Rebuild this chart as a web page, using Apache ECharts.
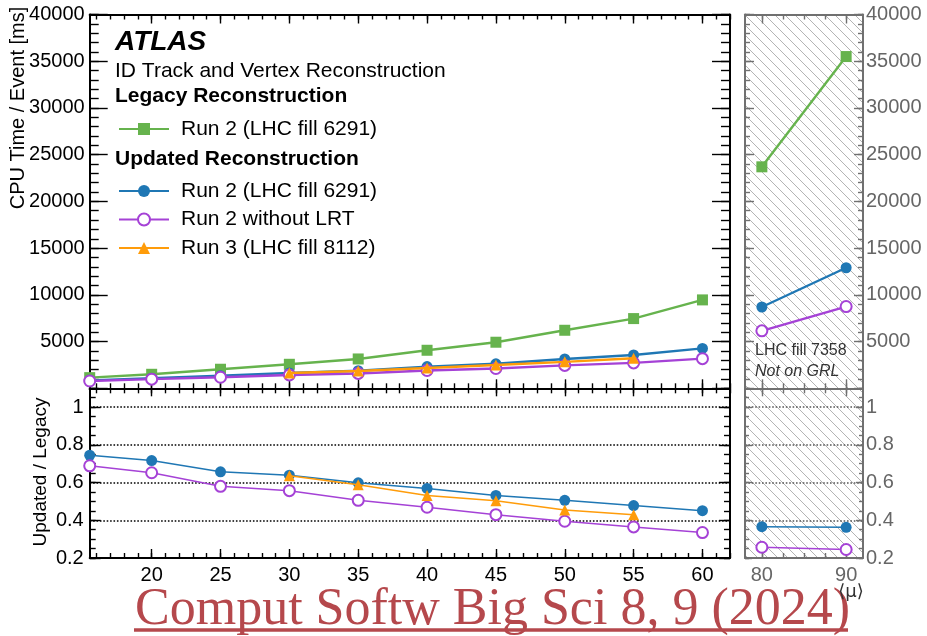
<!DOCTYPE html>
<html>
<head>
<meta charset="utf-8">
<script src="https://cdn.jsdelivr.net/npm/echarts@6/dist/echarts.min.js"></script>
<style>
  html, body { margin: 0; padding: 0; background: #ffffff; }
  #chart { width: 927px; height: 636px; }
</style>
</head>
<body>
<div id="chart"></div>
<script>
// <mu> values of the measured runs
const mu = [15.5, 20, 25, 30, 35, 40, 45, 50, 55, 60];
const muRun3 = [30, 35, 40, 45, 50, 55];
const muHigh = [80, 90];

// CPU time per event [ms]
const legacyRun2 = [1140, 1500, 2040, 2570, 3140, 4070, 4930, 6210, 7460, 9460];
const updatedRun2 = [850, 1080, 1340, 1640, 1880, 2320, 2620, 3140, 3570, 4270];
const updatedNoLRT = [780, 980, 1180, 1430, 1590, 1910, 2120, 2450, 2720, 3170];
const updatedRun3 = [1640, 1850, 2170, 2490, 2830, 3210];
const legacyRun2High = [23700, 35500];
const updatedRun2High = [8700, 12900];
const updatedNoLRTHigh = [6150, 8750];

// Updated / Legacy ratios
const ratioRun2 = [0.745, 0.717, 0.657, 0.639, 0.599, 0.569, 0.532, 0.506, 0.478, 0.451];
const ratioNoLRT = [0.689, 0.652, 0.580, 0.557, 0.506, 0.469, 0.430, 0.395, 0.365, 0.335];
const ratioRun3 = [0.636, 0.588, 0.532, 0.504, 0.455, 0.430];
const ratioRun2High = [0.366, 0.363];
const ratioNoLRTHigh = [0.257, 0.245];

// tick labels
const cpuTickLabels = [5000, 10000, 15000, 20000, 25000, 30000, 35000, 40000];
const ratioTickLabels = [0.2, 0.4, 0.6, 0.8, 1];
const muTickLabels = [20, 25, 30, 35, 40, 45, 50, 55, 60];
const muHighTickLabels = [80, 90];

const legendLabel = {
  'Legacy Run 2': 'Run 2 (LHC fill 6291)',
  'Updated Run 2': 'Run 2 (LHC fill 6291)',
  'Updated no LRT': 'Run 2 without LRT',
  'Updated Run 3': 'Run 3 (LHC fill 8112)'
};

const FONT = "'Liberation Sans', Arial, Helvetica, sans-serif";
const BLACK = '#000000';
const GREY = '#707070';
const GREEN = '#66b34d';
const BLUE = '#1f77b4';
const PURPLE = '#a542d6';
const ORANGE = '#ff9c0a';

function steps(a, b, step) {
  const out = [];
  for (let v = a; v <= b + 1e-9; v += step) out.push(+v.toFixed(4));
  return out;
}
function pts(xs, ys) { return xs.map((x, i) => [x, ys[i]]); }

// diagonal hatching for the high-pile-up panels
const hatch = document.createElement('canvas');
hatch.width = 10; hatch.height = 10;
const hg = hatch.getContext('2d');
hg.strokeStyle = '#b4b4b4';
hg.lineWidth = 1;
hg.beginPath();
[-10, 0, 10].forEach(k => { hg.moveTo(k - 1, -1); hg.lineTo(k + 11, 11); });
hg.stroke();

const grids = [
  { left: 89.7, top: 14.5, width: 640.3, height: 373.8 },
  { left: 89.7, top: 388.3, width: 640.3, height: 169.7 },
  { left: 745, top: 14.5, width: 118, height: 373.8, show: true, borderWidth: 0,
    backgroundColor: { image: hatch, repeat: 'repeat' } },
  { left: 745, top: 388.3, width: 118, height: 169.7, show: true, borderWidth: 0,
    backgroundColor: { image: hatch, repeat: 'repeat' } }
].map(g => Object.assign({ containLabel: false, outerBoundsMode: 'none' }, g));

function tickAxis(grid, pos, min, max, ticks, len, color, showLine, labels, labelMargin) {
  const a = {
    type: 'value', gridIndex: grid, position: pos, min: min, max: max,
    axisLine: { show: showLine, onZero: false, lineStyle: { color: color, width: 2 } },
    axisTick: { show: true, inside: true, length: len, customValues: ticks,
                lineStyle: { color: color, width: 1.4 } },
    axisLabel: { show: false },
    splitLine: { show: false },
    minorTick: { show: false },
    minorSplitLine: { show: false }
  };
  if (labels) {
    a.axisLabel = { show: true, customValues: labels, margin: labelMargin, color: color === BLACK ? BLACK : '#666666',
                    fontSize: 20, fontFamily: FONT, formatter: v => String(v) };
  }
  return a;
}

const muMajor = steps(20, 60, 5);
const muMinor = steps(16, 62, 1);
const muHighMinor = steps(80, 90, 2.5);
const cpuMajor = steps(0, 40000, 5000);
const cpuMinor = steps(0, 40000, 1000);
const ratioMajor = steps(0.2, 1.0, 0.2);
const ratioMinor = steps(0.2, 1.1, 0.05);

const xAxis = [
  // top-left
  tickAxis(0, 'bottom', 15.5, 62, muMajor, 9, BLACK, true),
  tickAxis(0, 'bottom', 15.5, 62, muMinor, 5, BLACK, false),
  tickAxis(0, 'top', 15.5, 62, muMajor, 9, BLACK, true),
  tickAxis(0, 'top', 15.5, 62, muMinor, 5, BLACK, false),
  // ratio-left
  tickAxis(1, 'bottom', 15.5, 62, muMajor, 9, BLACK, true, muTickLabels, 7),
  tickAxis(1, 'bottom', 15.5, 62, muMinor, 5, BLACK, false),
  tickAxis(1, 'top', 15.5, 62, muMajor, 8, BLACK, true),
  tickAxis(1, 'top', 15.5, 62, muMinor, 5, BLACK, false),
  // top-right
  tickAxis(2, 'bottom', 78, 92, muHighTickLabels, 9, GREY, true),
  tickAxis(2, 'bottom', 78, 92, muHighMinor, 5, GREY, false),
  tickAxis(2, 'top', 78, 92, muHighTickLabels, 9, GREY, true),
  tickAxis(2, 'top', 78, 92, muHighMinor, 5, GREY, false),
  // ratio-right
  tickAxis(3, 'bottom', 78, 92, muHighTickLabels, 9, GREY, true, muHighTickLabels, 7),
  tickAxis(3, 'bottom', 78, 92, muHighMinor, 5, GREY, false),
  tickAxis(3, 'top', 78, 92, muHighTickLabels, 8, GREY, true),
  tickAxis(3, 'top', 78, 92, muHighMinor, 5, GREY, false)
];

function dottedGrid(grid, color) {
  return {
    type: 'value', gridIndex: grid, position: 'left', min: 0.2, max: 1.1, interval: 0.2,
    axisLine: { show: false, onZero: false }, axisTick: { show: false }, axisLabel: { show: false },
    splitLine: { show: true, lineStyle: { color: color, width: 1.6, type: [1.6, 1.8] } }
  };
}

const yAxis = [
  // top-left: 0..3
  tickAxis(0, 'left', 0, 40000, cpuMajor, 18, BLACK, true, cpuTickLabels, 5),
  tickAxis(0, 'left', 0, 40000, cpuMinor, 9, BLACK, false),
  tickAxis(0, 'right', 0, 40000, cpuMajor, 18, BLACK, true),
  tickAxis(0, 'right', 0, 40000, cpuMinor, 9, BLACK, false),
  // ratio-left: 4..8
  tickAxis(1, 'left', 0.2, 1.1, ratioMajor, 11, BLACK, true, ratioTickLabels, 6),
  tickAxis(1, 'left', 0.2, 1.1, ratioMinor, 6, BLACK, false),
  tickAxis(1, 'right', 0.2, 1.1, ratioMajor, 11, BLACK, true),
  tickAxis(1, 'right', 0.2, 1.1, ratioMinor, 6, BLACK, false),
  dottedGrid(1, BLACK),
  // top-right: 9..12
  tickAxis(2, 'left', 0, 40000, cpuMajor, 9, GREY, true),
  tickAxis(2, 'left', 0, 40000, cpuMinor, 5, GREY, false),
  tickAxis(2, 'right', 0, 40000, cpuMajor, 9, GREY, true, cpuTickLabels, 3),
  tickAxis(2, 'right', 0, 40000, cpuMinor, 5, GREY, false),
  // ratio-right: 13..17
  tickAxis(3, 'left', 0.2, 1.1, ratioMajor, 7, GREY, true),
  tickAxis(3, 'left', 0.2, 1.1, ratioMinor, 4, GREY, false),
  tickAxis(3, 'right', 0.2, 1.1, ratioMajor, 7, GREY, true, ratioTickLabels, 3),
  tickAxis(3, 'right', 0.2, 1.1, ratioMinor, 4, GREY, false),
  dottedGrid(3, '#555555')
];

function line(name, xi, yi, data, color, symbol, width, z) {
  return {
    type: 'line', name: name, xAxisIndex: xi, yAxisIndex: yi, data: data,
    symbol: symbol, symbolSize: 11, showSymbol: true, clip: false, z: z,
    lineStyle: { color: color, width: width },
    itemStyle: { color: color, borderColor: color, borderWidth: symbol === 'emptyCircle' ? 1.6 : 0 },
    emphasis: { disabled: true }, silent: true, animation: false
  };
}

const series = [
  line('Legacy Run 2', 0, 0, pts(mu, legacyRun2), GREEN, 'rect', 2.4, 2),
  line('Updated Run 2', 0, 0, pts(mu, updatedRun2), BLUE, 'circle', 2.4, 3),
  line('Updated no LRT', 0, 0, pts(mu, updatedNoLRT), PURPLE, 'emptyCircle', 2.4, 4),
  line('Updated Run 3', 0, 0, pts(muRun3, updatedRun3), ORANGE, 'triangle', 2.4, 5),

  line('Updated Run 2', 4, 4, pts(mu, ratioRun2), BLUE, 'circle', 1.5, 3),
  line('Updated no LRT', 4, 4, pts(mu, ratioNoLRT), PURPLE, 'emptyCircle', 1.5, 4),
  line('Updated Run 3', 4, 4, pts(muRun3, ratioRun3), ORANGE, 'triangle', 1.5, 5),

  line('Legacy Run 2', 8, 9, pts(muHigh, legacyRun2High), GREEN, 'rect', 2.4, 2),
  line('Updated Run 2', 8, 9, pts(muHigh, updatedRun2High), BLUE, 'circle', 2.4, 3),
  line('Updated no LRT', 8, 9, pts(muHigh, updatedNoLRTHigh), PURPLE, 'emptyCircle', 2.4, 4),

  line('Updated Run 2', 12, 13, pts(muHigh, ratioRun2High), BLUE, 'circle', 1.5, 3),
  line('Updated no LRT', 12, 13, pts(muHigh, ratioNoLRTHigh), PURPLE, 'emptyCircle', 1.5, 4)
];

const legendText = { fontSize: 21, fontFamily: FONT, color: BLACK, padding: [0, 0, 0, 7], lineHeight: 21 };
const legend = [
  { data: ['Legacy Run 2'], left: 113, top: 113.5, orient: 'vertical', itemWidth: 50, itemHeight: 15,
    itemGap: 7.5, selectedMode: false, textStyle: legendText, formatter: n => legendLabel[n] },
  { data: ['Updated Run 2', 'Updated no LRT', 'Updated Run 3'], left: 113, top: 175.5, orient: 'vertical',
    itemWidth: 50, itemHeight: 15, itemGap: 7.5, selectedMode: false, textStyle: legendText,
    formatter: n => legendLabel[n] }
];

function txt(x, y, text, extra, style) {
  return Object.assign({ type: 'text', x: x, y: y, silent: true, z: 50,
    style: Object.assign({ text: text, fontFamily: FONT, fontSize: 21, fill: BLACK,
                           align: 'left', verticalAlign: 'middle' }, style) }, extra);
}

const graphic = [
  txt(115, 42.5, 'ATLAS', {}, { fontSize: 28, fontWeight: 'bold', fontStyle: 'italic' }),
  txt(115, 71.5, 'ID Track and Vertex Reconstruction', {}, {}),
  txt(115, 96.7, 'Legacy Reconstruction', {}, { fontWeight: 'bold' }),
  txt(115, 159, 'Updated Reconstruction', {}, { fontWeight: 'bold' }),
  txt(18.5, 108, 'CPU Time / Event [ms]', { rotation: Math.PI / 2 }, { align: 'center', fontSize: 20 }),
  txt(41, 472, 'Updated / Legacy', { rotation: Math.PI / 2 }, { align: 'center', fontSize: 19 }),
  txt(755, 350.5, 'LHC fill 7358', {}, { fontSize: 16, fill: '#333333' }),
  txt(755, 371.5, 'Not on GRL', {}, { fontSize: 16, fontStyle: 'italic', fill: '#333333' }),
  txt(135, 610, 'Comput Softw Big Sci 8, 9 (2024)', {},
      { fontSize: 52, fontFamily: "'Liberation Serif', 'Times New Roman', serif", fill: '#b5484c' }),
  { type: 'line', silent: true, z: 50, shape: { x1: 134, y1: 630, x2: 848, y2: 630 },
    style: { stroke: '#b5484c', lineWidth: 3.5 } },
  txt(851, 592, '\u27E8\u03BC\u27E9', { z: 60 }, { fontSize: 18, align: 'center', fill: '#333333',
                                                  fontFamily: "'DejaVu Sans', sans-serif" })
];

const chart = echarts.init(document.getElementById('chart'), null, { renderer: 'canvas' });
chart.setOption({
  animation: false,
  backgroundColor: '#ffffff',
  grid: grids,
  xAxis: xAxis,
  yAxis: yAxis,
  legend: legend,
  series: series,
  graphic: graphic
});
</script>
</body>
</html>
